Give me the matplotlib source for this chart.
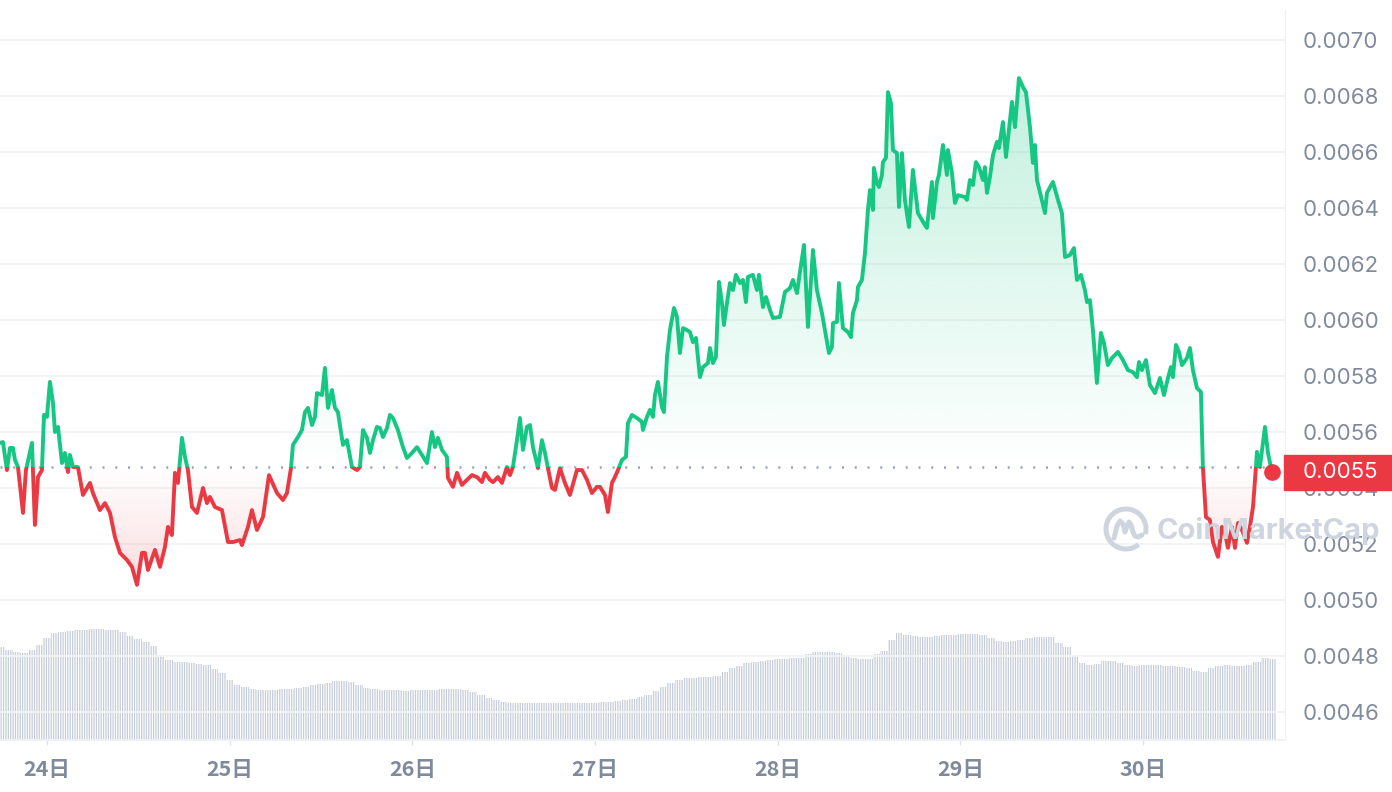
import matplotlib
matplotlib.use("Agg")
import matplotlib.pyplot as plt
import numpy as np
from matplotlib.patches import Rectangle, Arc
from matplotlib.transforms import blended_transform_factory

# price samples: hours since 24日 00:00, price in 1e-6 USD
hours = [-6.17, -5.78, -5.26, -4.86, -4.47, -4.20, -3.81, -3.15, -2.76, -1.97, -1.58, -1.18, -0.66, -0.39, 0.00,
         0.39, 0.79, 1.05, 1.45, 1.97, 2.36, 2.76, 3.02, 3.42, 4.07, 4.73, 5.65, 6.04, 6.96, 7.62, 8.28, 8.93, 9.59,
         10.51, 11.17, 11.83, 12.48, 12.88, 13.27, 14.19, 14.85, 15.50, 15.90, 16.42, 16.82, 17.21, 17.74, 18.13,
         18.52, 19.05, 19.71, 20.50, 21.02, 21.41, 22.07, 22.99, 23.78, 24.44, 25.36, 25.62, 26.41, 26.93, 27.59,
         28.38, 29.17, 30.22, 31.01, 31.53, 32.06, 32.32, 32.98, 33.50, 33.90, 34.29, 34.82, 35.21, 35.47, 36.13,
         36.52, 36.92, 37.44, 37.84, 38.23, 38.89, 39.41, 40.07, 40.73, 41.12, 41.52, 42.04, 42.44, 42.83, 43.36,
         43.75, 44.14, 44.67, 45.06, 45.46, 46.11, 46.77, 47.30, 47.95, 48.61, 49.27, 49.92, 50.58, 50.98, 51.37,
         51.90, 52.55, 52.68, 53.34, 53.87, 54.52, 55.18, 55.84, 56.49, 57.15, 57.54, 58.20, 58.60, 59.25, 59.78,
         60.43, 60.83, 61.22, 61.75, 62.14, 62.54, 63.06, 63.46, 63.85, 64.51, 65.03, 65.43, 65.82, 66.35, 66.74,
         67.40, 68.05, 68.71, 69.63, 70.29, 70.95, 71.60, 72.26, 72.65, 73.31, 73.70, 74.23, 74.62, 75.02, 75.54,
         76.07, 76.33, 76.86, 77.51, 78.17, 78.30, 78.83, 79.22, 79.62, 79.88, 80.27, 80.80, 81.06, 81.46, 81.85,
         82.38, 82.77, 83.16, 83.56, 84.08, 84.48, 84.87, 85.27, 85.79, 86.19, 86.84, 87.11, 87.50, 87.89, 88.29,
         88.68, 88.94, 89.34, 89.73, 90.13, 90.52, 91.05, 91.44, 91.83, 92.10, 92.75, 93.28, 93.54, 94.07, 94.46,
         94.99, 95.38, 96.30, 96.96, 97.62, 98.01, 98.54, 98.93, 99.46, 99.98, 100.64, 101.16, 101.82, 102.21,
         102.74, 103.13, 103.27, 103.79, 104.05, 104.58, 105.24, 105.63, 105.89, 106.42, 106.55, 107.07, 107.47,
         107.86, 108.13, 108.52, 108.65, 109.05, 109.31, 109.70, 109.83, 110.23, 110.49, 110.88, 111.15, 111.67,
         111.94, 112.33, 112.72, 113.25, 113.77, 114.43, 114.96, 115.35, 115.61, 116.27, 116.40, 116.93, 117.19,
         117.72, 118.24, 118.37, 118.90, 119.29, 119.69, 120.61, 120.87, 121.26, 121.66, 122.05, 122.45, 122.97,
         123.23, 123.50, 123.89, 124.29, 124.81, 125.07, 125.60, 126.00, 126.39, 126.78, 127.18, 127.70, 128.23,
         128.62, 129.15, 129.54, 129.80, 130.07, 130.46, 131.12, 131.38, 132.17, 132.83, 133.35, 133.75, 134.40,
         134.93, 135.32, 135.85, 136.37, 136.64, 137.03, 137.42, 137.95, 138.47, 138.87, 139.39, 139.92, 140.71,
         141.36, 142.02, 142.68, 143.20, 143.47, 143.86, 144.39, 144.91, 145.57, 146.23, 146.75, 147.28, 147.67,
         147.93, 148.33, 148.72, 149.12, 149.77, 150.17, 150.56, 151.09, 151.61, 151.87, 152.27, 152.79, 153.19,
         153.85, 154.37, 154.77, 155.16, 155.69, 156.08, 156.48, 157.00, 157.66, 158.05, 158.45, 158.84, 158.97,
         159.36, 160.02, 160.42, 160.94]
price_e6 = [5561, 5564, 5464, 5543, 5543, 5500, 5475, 5311, 5464, 5561, 5268, 5439, 5464, 5661, 5654,
            5779, 5704, 5600, 5618, 5489, 5525, 5457, 5518, 5475, 5475, 5375, 5418, 5382, 5321, 5346, 5311, 5225, 5168,
            5143, 5118, 5054, 5168, 5168, 5107, 5179, 5118, 5189, 5261, 5232, 5454, 5418, 5579, 5511,
            5464, 5332, 5311, 5400, 5346, 5368, 5332, 5321, 5207, 5207, 5214, 5196, 5261, 5321, 5250,
            5296, 5446, 5382, 5357, 5382, 5471, 5554, 5582, 5607, 5671, 5686, 5625, 5654, 5739, 5732,
            5829, 5686, 5750, 5686, 5671, 5554, 5571, 5475, 5464, 5475, 5607, 5579, 5525, 5571, 5618,
            5614, 5582, 5614, 5661, 5650, 5607, 5546, 5507, 5525, 5546, 5518, 5489, 5600, 5546, 5579,
            5536, 5511, 5436, 5404, 5454, 5411, 5429, 5446, 5439, 5421, 5454, 5429, 5421, 5439, 5418,
            5475, 5446, 5475, 5571, 5650, 5536, 5618, 5625, 5546, 5471, 5571, 5525, 5471, 5400, 5393,
            5471, 5418, 5375, 5464, 5464, 5429, 5382, 5404, 5404, 5375, 5314, 5418, 5439, 5464, 5500,
            5511, 5632, 5661, 5650, 5636, 5607, 5654, 5679, 5654, 5732, 5779, 5689, 5671, 5868, 5964,
            6043, 6011, 5882, 5971, 5964, 5957, 5921, 5936, 5796, 5832, 5846, 5900, 5846, 5868, 6136,
            6061, 5982, 6061, 6132, 6107, 6161, 6132, 6143, 6064, 6154, 6161, 6107, 6161, 6046, 6082,
            6036, 6007, 6011, 6100, 6114, 6143, 6096, 6171, 6268, 5975, 6250, 6107, 6025, 5964,
            5882, 5904, 5989, 5993, 6132, 5971, 5957, 5939, 6025, 6071, 6118, 6143, 6239,
            6393, 6464, 6393, 6543, 6489, 6475, 6518, 6564, 6579, 6814, 6775, 6607, 6596,
            6404, 6596, 6429, 6332, 6536, 6382, 6357, 6339, 6329, 6493, 6364, 6493, 6518,
            6625, 6518, 6607, 6525, 6418, 6446, 6439, 6429, 6500, 6482, 6564, 6546, 6500,
            6546, 6454, 6511, 6589, 6636, 6614, 6707, 6582, 6679, 6779, 6689, 6864, 6832,
            6814, 6689, 6561, 6625, 6500, 6457, 6382, 6454, 6493, 6429, 6382, 6225, 6232,
            6257, 6143, 6161, 6107, 6064, 6071, 5964, 5775, 5954, 5918, 5839, 5864, 5886,
            5857, 5821, 5814, 5796, 5850, 5821, 5857, 5768, 5739, 5793, 5732, 5793, 5832,
            5796, 5911, 5886, 5839, 5864, 5900, 5821, 5757, 5743, 5475, 5296, 5286, 5207,
            5154, 5261, 5239, 5186, 5261, 5186, 5275, 5250, 5204, 5261, 5332, 5475, 5529,
            5475, 5618, 5525, 5457]

base_price = 0.005475  # opening price of the period (dotted line)

# hourly volume (arbitrary units, millions)
vol_hours = list(range(-6, 162))
volume = [1.86, 1.80, 1.76, 1.74, 1.80, 1.90,
          2.04, 2.14, 2.16, 2.18, 2.20, 2.20, 2.22, 2.22, 2.20, 2.20, 2.16, 2.08, 2.02, 1.96, 1.88, 1.70,
          1.60, 1.56, 1.56, 1.54, 1.52, 1.50, 1.42, 1.34, 1.20, 1.10, 1.06, 1.02, 1.00, 1.00, 1.00, 1.02,
          1.02, 1.04, 1.06, 1.10, 1.12, 1.14, 1.18, 1.18, 1.16, 1.10, 1.04, 1.02, 1.00, 1.00, 1.00, 0.98,
          1.00, 1.00, 1.00, 1.00, 1.02, 1.02, 1.02, 1.00, 0.96, 0.90, 0.84, 0.80, 0.76, 0.74,
          0.74, 0.74, 0.74, 0.74, 0.74, 0.74, 0.74, 0.74, 0.74, 0.74, 0.74,
          0.76, 0.76, 0.78, 0.80, 0.82, 0.86, 0.90, 0.98, 1.06, 1.14, 1.20, 1.24, 1.24, 1.26, 1.26, 1.28,
          1.36, 1.44, 1.48, 1.54, 1.56, 1.58, 1.60, 1.62, 1.62, 1.64, 1.64, 1.72, 1.76, 1.76, 1.76, 1.74,
          1.70, 1.64, 1.62, 1.62, 1.72, 1.78, 2.00, 2.14, 2.10, 2.08, 2.06, 2.06, 2.08, 2.10, 2.10, 2.12,
          2.12, 2.12, 2.10, 2.04, 1.98, 1.96, 1.98, 2.00, 2.04, 2.06, 2.06, 2.06, 1.94, 1.86, 1.68, 1.54,
          1.50, 1.52, 1.58, 1.58, 1.54, 1.50, 1.48, 1.50, 1.50, 1.50, 1.48, 1.48, 1.46, 1.44, 1.38, 1.36,
          1.44, 1.48, 1.50, 1.48, 1.48, 1.50, 1.56, 1.64, 1.62]

day_ticks = [0, 24, 48, 72, 96, 120, 144]
day_labels = ["24日", "25日", "26日", "27日", "28日", "29日", "30日"]
price_ticks = [0.0046, 0.0048, 0.0050, 0.0052, 0.0054, 0.0056, 0.0058,
               0.0060, 0.0062, 0.0064, 0.0066, 0.0068, 0.0070]

t = np.array(hours)
p = np.array(price_e6) * 1e-6

GREEN = "#16c784"
RED = "#ea3943"
GREY = "#808a9d"
GRID = "#f2f3f5"

plt.rcParams["font.family"] = ["Inter", "DejaVu Sans"]
plt.rcParams["hatch.linewidth"] = 0.9

x0, x1 = -6.17, 162.65
y0, y1 = 0.0045, 0.007107

fig = plt.figure(figsize=(13.92, 7.92), dpi=100)
rect = [0, 0.0657, 0.9231, 0.9216]

# volume bars in their own axes, behind price
axv = fig.add_axes(rect)
axv.bar(vol_hours, volume, width=1.0, facecolor="none", edgecolor="#c6cdd8",
        linewidth=0, hatch="|||||||")
axv.set_xlim(x0, x1)
axv.set_ylim(0, 14.6)
axv.axis("off")

ax = fig.add_axes(rect)
ax.patch.set_alpha(0)

# gradient fill between price and base
fill = ax.fill_between(t, p, base_price, facecolor="none", edgecolor="none")
levels = np.linspace(y0, y1, 400)
grad = np.zeros((400, 1, 4))
g_rgb = matplotlib.colors.to_rgb(GREEN)
r_rgb = matplotlib.colors.to_rgb(RED)
for i, v in enumerate(levels):
    if v >= base_price:
        grad[i, 0, :3] = g_rgb
        grad[i, 0, 3] = min(0.27, 0.27 * (v - base_price) / (0.0069 - base_price))
    else:
        grad[i, 0, :3] = r_rgb
        grad[i, 0, 3] = min(0.16, 0.16 * (base_price - v) / (base_price - 0.0051))
im = ax.imshow(grad, extent=[x0, x1, y0, y1], origin="lower", aspect="auto",
               interpolation="bilinear", zorder=1.5)
im.set_clip_path(fill.get_paths()[0], transform=ax.transData)

# watermark
wm = "#cfd5df"
fig.text(1157 / 1392, 1 - 531 / 792, "CoinMarketCap", fontsize=21, fontweight="bold",
         color=wm, ha="left", va="center", zorder=0.5)
cx, cy = 1126 / 1392, 1 - 529 / 792
fig.add_artist(Arc((cx, cy), 40 / 1392, 40 / 792, theta1=-25, theta2=295,
                   transform=fig.transFigure, color=wm, lw=3.6, zorder=0.5))
wx = np.array([-12, -9, -6, -3, -1, 1, 3, 5, 7, 9, 12, 16]) / 1392 + cx
wy = np.array([-9, 3, 8, 5, -3, 3, 7, 4, -3, -7, -8, -6]) / 792 + cy
fig.add_artist(plt.Line2D(wx, wy, transform=fig.transFigure, color=wm, lw=3.6,
                          solid_capstyle="round", zorder=0.5))

# price line: green above base, red below
up_clip = Rectangle((x0, base_price), x1 - x0, 1, transform=ax.transData)
dn_clip = Rectangle((x0, base_price - 1), x1 - x0, 1, transform=ax.transData)
lg, = ax.plot(t, p, color=GREEN, lw=2.8, zorder=4, solid_joinstyle="round")
lg.set_clip_path(up_clip)
lr, = ax.plot(t, p, color=RED, lw=2.8, zorder=4, solid_joinstyle="round")
lr.set_clip_path(dn_clip)

ax.axhline(base_price, color="#9aa3b3", lw=1.8, ls=(0, (0.8, 4.3)), zorder=3)
ax.plot(t[-1], p[-1], "o", color=RED, ms=11, zorder=6, clip_on=False)

ax.set_xlim(x0, x1)
ax.set_ylim(y0, y1)
ax.set_yticks(price_ticks)
ax.set_yticklabels([f"{v:.4f}" for v in price_ticks])
ax.yaxis.tick_right()
ax.tick_params(axis="y", length=0, pad=13, labelsize=16, labelcolor=GREY)
ax.set_xticks(day_ticks)
ax.set_xticklabels(day_labels, fontsize=15.5, fontweight="bold",
                   family=["Noto Sans CJK JP", "DejaVu Sans"])
ax.tick_params(axis="x", length=3.5, width=1, color="#dfe3e8", pad=10, labelcolor=GREY)
ax.grid(axis="y", color=GRID, lw=1.3, zorder=0)
ax.set_axisbelow(True)
for s in ["top", "left"]:
    ax.spines[s].set_visible(False)
ax.spines["right"].set_color("#eff2f5")
ax.spines["bottom"].set_color("#eef0f3")
ax.spines["bottom"].set_linewidth(1.3)

# last price tag
bt = blended_transform_factory(fig.transFigure, ax.transData)
h = 35 / 792 * (y1 - y0) / 0.9216
fig.add_artist(Rectangle((1284 / 1392, p[-1] - h / 2), 1 - 1284 / 1392, h,
                         transform=bt, color=RED, zorder=5))
fig.text(1303 / 1392, p[-1], f"{p[-1]:.4f}", transform=bt, color="white",
         fontsize=16, ha="left", va="center", zorder=6)

fig.savefig("out.png", dpi=100, facecolor="white")
